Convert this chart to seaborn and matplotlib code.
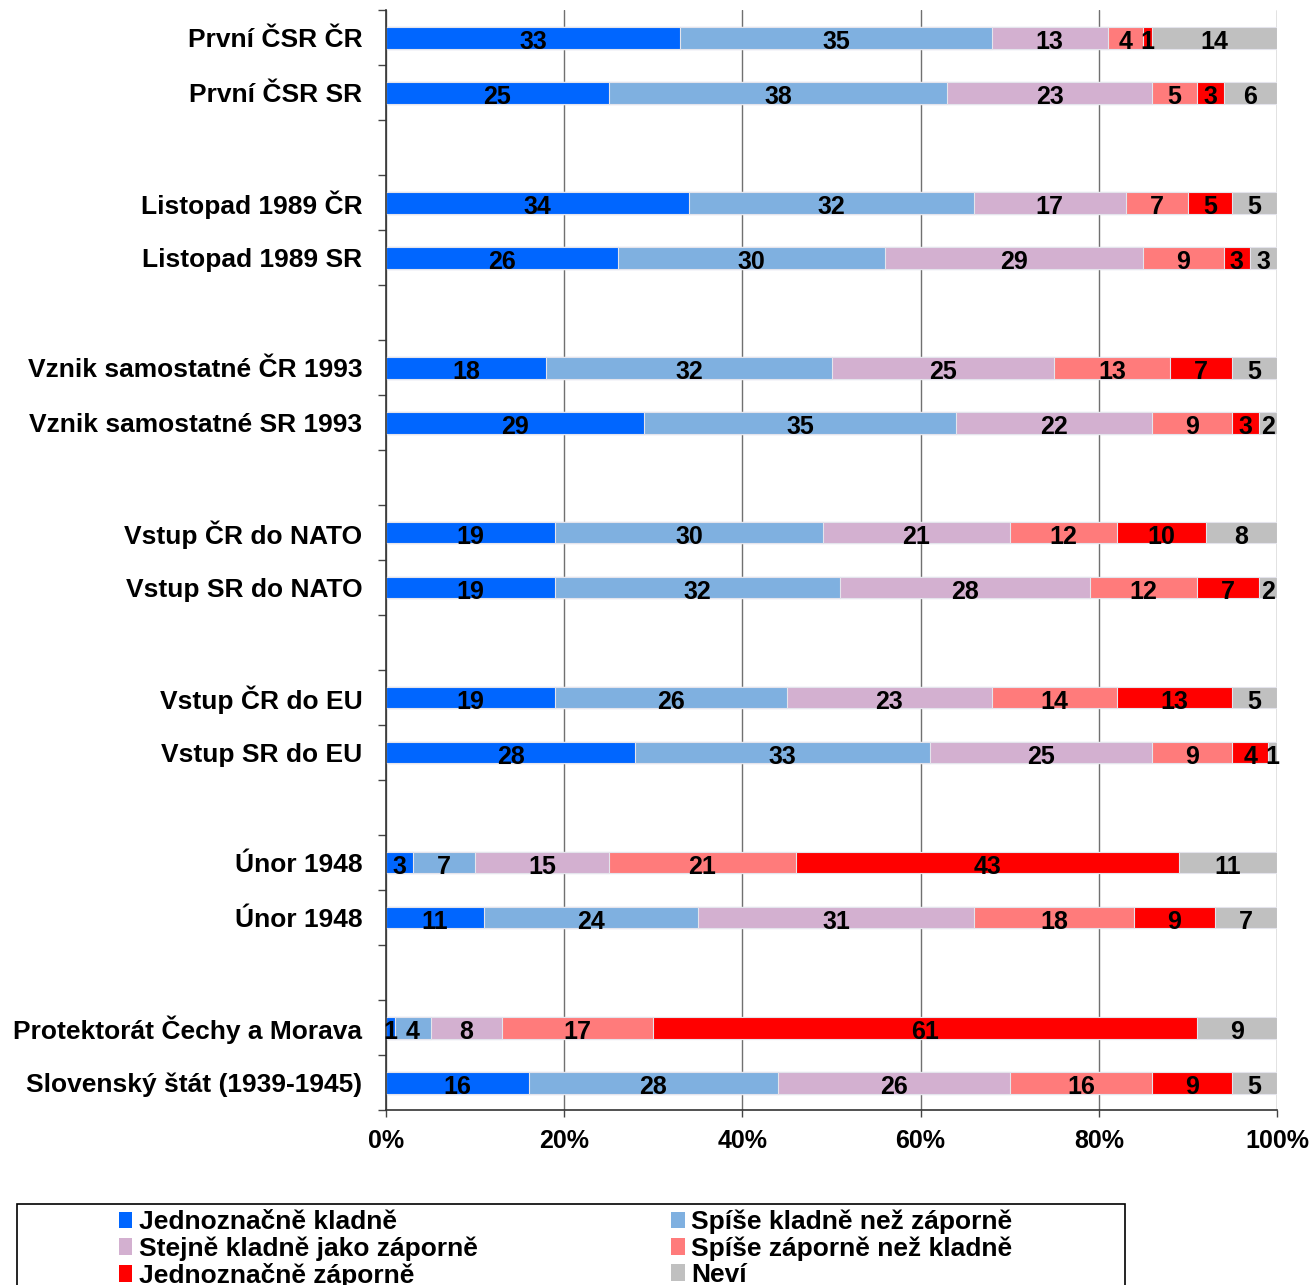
import numpy as np
import pandas as pd
import seaborn as sns
import matplotlib.pyplot as plt
from matplotlib.patches import Patch, Rectangle
from matplotlib.ticker import FixedLocator, PercentFormatter

sns.set_style('white')
plt.rcParams['font.family'] = ['Liberation Sans', 'DejaVu Sans']
plt.rcParams['font.weight'] = 'bold'
plt.rcParams['text.color'] = 'black'
plt.rcParams['xtick.color'] = 'black'
plt.rcParams['ytick.color'] = 'black'

# data (hodnoty v %)
categories = ['První ČSR ČR', 'První ČSR SR',
              'Listopad 1989 ČR', 'Listopad 1989 SR',
              'Vznik samostatné ČR 1993', 'Vznik samostatné SR 1993',
              'Vstup ČR do NATO', 'Vstup SR do NATO',
              'Vstup ČR do EU', 'Vstup SR do EU',
              'Únor 1948', 'Únor 1948',
              'Protektorát Čechy a Morava', 'Slovenský štát (1939-1945)']
jedn_kladne = [33, 25, 34, 26, 18, 29, 19, 19, 19, 28, 3, 11, 1, 16]
spise_kladne = [35, 38, 32, 30, 32, 35, 30, 32, 26, 33, 7, 24, 4, 28]
stejne = [13, 23, 17, 29, 25, 22, 21, 28, 23, 25, 15, 31, 8, 26]
spise_zaporne = [4, 5, 7, 9, 13, 9, 12, 12, 14, 9, 21, 18, 17, 16]
jedn_zaporne = [1, 3, 5, 3, 7, 3, 10, 7, 13, 4, 43, 9, 61, 9]
nevi = [14, 6, 5, 3, 5, 2, 8, 2, 5, 1, 11, 7, 9, 5]

series_names = ['Jednoznačně kladně', 'Spíše kladně než záporně',
                'Stejně kladně jako záporně', 'Spíše záporně než kladně',
                'Jednoznačně záporně', 'Neví']
colors = ['#0066FF', '#7FB0E0', '#D3B0D0', '#FF7B7B', '#FF0000', '#C0C0C0']

df = pd.DataFrame({'kategorie': categories,
                   series_names[0]: jedn_kladne,
                   series_names[1]: spise_kladne,
                   series_names[2]: stejne,
                   series_names[3]: spise_zaporne,
                   series_names[4]: jedn_zaporne,
                   series_names[5]: nevi})
df['key'] = ['r%d' % i for i in range(len(df))]

# po dvojicích, mezi nimi prázdný řádek
order = []
for i in range(0, len(df), 2):
    if i > 0:
        order.append('gap%d' % i)
    order += [df['key'][i], df['key'][i + 1]]

cum = df[series_names].cumsum(axis=1)

fig = plt.figure(figsize=(13.12, 12.85), dpi=100)
ax = fig.add_axes([386 / 1312, 1 - 1110 / 1285, 891 / 1312, 1100 / 1285])

# skládané pruhy: kumulativní součty od konce
for j in range(len(series_names) - 1, -1, -1):
    tmp = pd.DataFrame({'key': df['key'], 'val': cum[series_names[j]]})
    sns.barplot(data=tmp, x='val', y='key', order=order, orient='h',
                color=colors[j], saturation=1, width=0.4, errorbar=None,
                edgecolor='#e4e4ec', linewidth=0.8, ax=ax)

for i, row in df.iterrows():
    pos = order.index(row['key'])
    for j, s in enumerate(series_names):
        v = row[s]
        ax.text(cum.loc[i, s] - v / 2, pos + 0.03, str(v), ha='center', va='center_baseline',
                fontsize=18, fontweight='bold', color='black')

ax.set_xlim(0, 100)
ax.set_ylim(len(order) - 0.5, -0.5)
ax.xaxis.set_major_locator(FixedLocator([0, 20, 40, 60, 80, 100]))
ax.xaxis.set_major_formatter(PercentFormatter(decimals=0))
labels = []
for k in order:
    if k.startswith('gap'):
        labels.append('')
    else:
        labels.append(df.loc[df['key'] == k, 'kategorie'].values[0])
ax.set_yticks(range(len(order)))
ax.set_yticklabels(labels, fontsize=19, fontweight='bold', color='black')
ax.yaxis.set_minor_locator(FixedLocator(np.arange(-0.5, len(order), 1)))
for t in ax.get_xticklabels():
    t.set_fontsize(18)
    t.set_fontweight('bold')
    t.set_color('black')

ax.tick_params(axis='y', which='major', length=0, pad=17)
ax.tick_params(axis='y', which='minor', left=True, length=6, width=1, color='#444444', direction='out')
ax.tick_params(axis='x', bottom=True, length=5, width=1, color='#444444', direction='out', pad=9)
ax.set_xlabel('')
ax.set_ylabel('')

ax.grid(axis='x', color='#707070', linewidth=1)
ax.set_axisbelow(True)
for side in ['top', 'right']:
    ax.spines[side].set_visible(False)
for side in ['left', 'bottom']:
    ax.spines[side].set_color('#333333')
    ax.spines[side].set_linewidth(1.2)

# legenda
handles = [Patch(facecolor=c, edgecolor='none') for c in colors]
idx = [0, 2, 4, 1, 3, 5]
fig.legend([handles[i] for i in idx], [series_names[i] for i in idx],
           loc='upper left', bbox_to_anchor=(103 / 1312, 1 - 1194 / 1285),
           ncol=2, frameon=False, borderpad=0.1,
           handlelength=0.5, handleheight=0.6, handletextpad=0.25,
           labelspacing=0.08, columnspacing=7.35, prop={'weight': 'bold', 'size': 19})
fig.patches.append(Rectangle((17 / 1312, -0.05), 1108 / 1312, 0.05 + 1 - 1204 / 1285,
                             transform=fig.transFigure, fill=False,
                             edgecolor='black', linewidth=1.2))

fig.savefig('out.png', dpi=100)
